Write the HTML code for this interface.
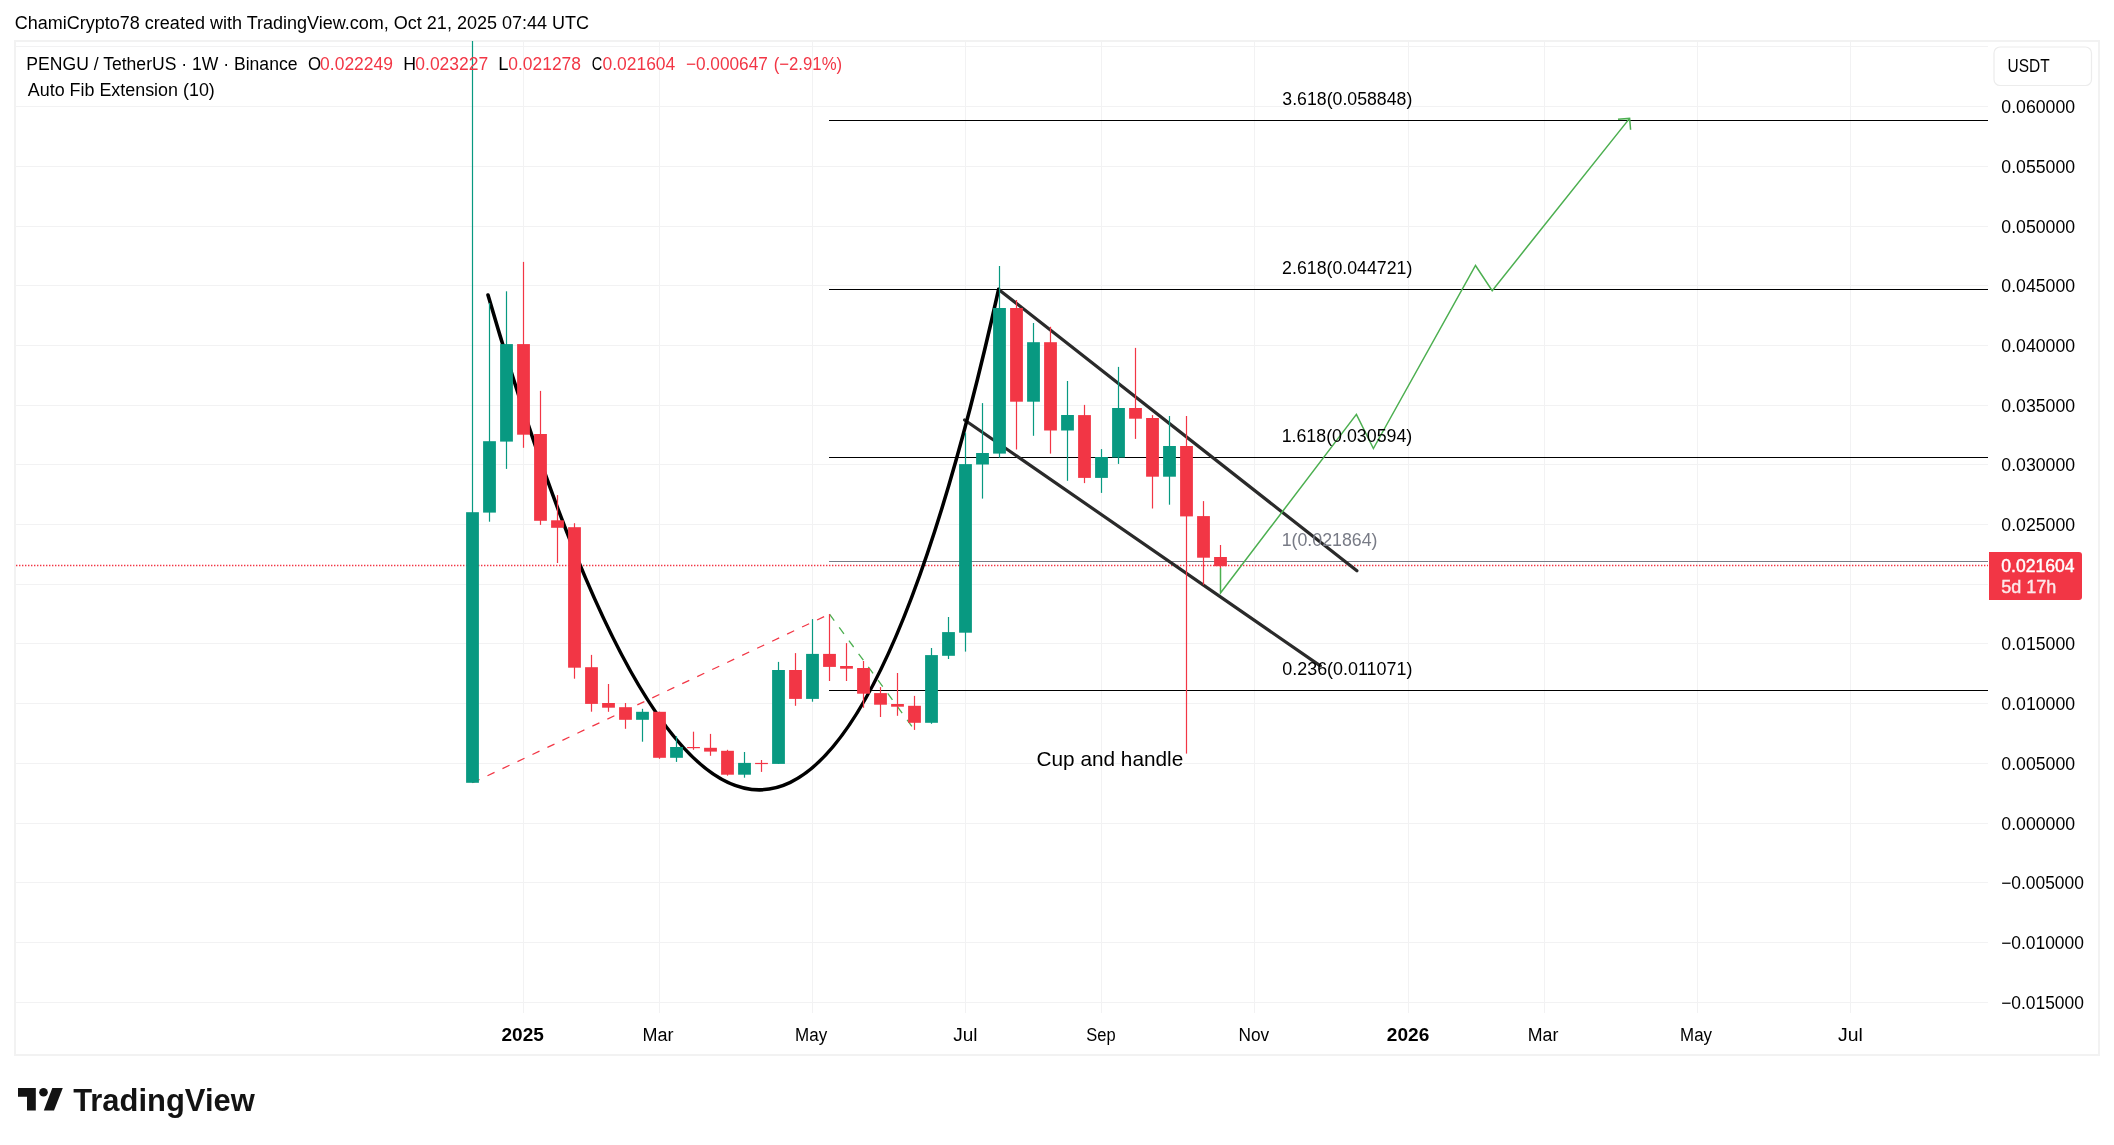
<!DOCTYPE html><html><head><meta charset="utf-8"><style>html,body{margin:0;padding:0;background:#fff;width:2114px;height:1145px;overflow:hidden}svg{display:block;will-change:transform}text{font-family:"Liberation Sans",sans-serif}</style></head><body>
<svg width="2114" height="1145" viewBox="0 0 2114 1145">
<rect x="0" y="0" width="2114" height="1145" fill="#ffffff"/>
<text x="14.69" y="28.8" font-size="18" fill="#000000" textLength="574.39" lengthAdjust="spacingAndGlyphs">ChamiCrypto78 created with TradingView.com, Oct 21, 2025 07:44 UTC</text>
<rect x="15" y="41" width="2084" height="1014" fill="none" stroke="#f2f2f2" stroke-width="2"/>
<line x1="16" y1="46.5" x2="1988" y2="46.5" stroke="#f2f2f3" stroke-width="1"/>
<line x1="16" y1="106.5" x2="1988" y2="106.5" stroke="#f2f2f3" stroke-width="1"/>
<line x1="16" y1="166.5" x2="1988" y2="166.5" stroke="#f2f2f3" stroke-width="1"/>
<line x1="16" y1="226.5" x2="1988" y2="226.5" stroke="#f2f2f3" stroke-width="1"/>
<line x1="16" y1="285.5" x2="1988" y2="285.5" stroke="#f2f2f3" stroke-width="1"/>
<line x1="16" y1="345.5" x2="1988" y2="345.5" stroke="#f2f2f3" stroke-width="1"/>
<line x1="16" y1="405.5" x2="1988" y2="405.5" stroke="#f2f2f3" stroke-width="1"/>
<line x1="16" y1="464.5" x2="1988" y2="464.5" stroke="#f2f2f3" stroke-width="1"/>
<line x1="16" y1="524.5" x2="1988" y2="524.5" stroke="#f2f2f3" stroke-width="1"/>
<line x1="16" y1="584.5" x2="1988" y2="584.5" stroke="#f2f2f3" stroke-width="1"/>
<line x1="16" y1="643.5" x2="1988" y2="643.5" stroke="#f2f2f3" stroke-width="1"/>
<line x1="16" y1="703.5" x2="1988" y2="703.5" stroke="#f2f2f3" stroke-width="1"/>
<line x1="16" y1="763.5" x2="1988" y2="763.5" stroke="#f2f2f3" stroke-width="1"/>
<line x1="16" y1="823.5" x2="1988" y2="823.5" stroke="#f2f2f3" stroke-width="1"/>
<line x1="16" y1="882.5" x2="1988" y2="882.5" stroke="#f2f2f3" stroke-width="1"/>
<line x1="16" y1="942.5" x2="1988" y2="942.5" stroke="#f2f2f3" stroke-width="1"/>
<line x1="16" y1="1002.5" x2="1988" y2="1002.5" stroke="#f2f2f3" stroke-width="1"/>
<line x1="523.5" y1="42" x2="523.5" y2="1013" stroke="#f2f2f3" stroke-width="1"/>
<line x1="659.5" y1="42" x2="659.5" y2="1013" stroke="#f2f2f3" stroke-width="1"/>
<line x1="812.5" y1="42" x2="812.5" y2="1013" stroke="#f2f2f3" stroke-width="1"/>
<line x1="965.5" y1="42" x2="965.5" y2="1013" stroke="#f2f2f3" stroke-width="1"/>
<line x1="1101.5" y1="42" x2="1101.5" y2="1013" stroke="#f2f2f3" stroke-width="1"/>
<line x1="1254.5" y1="42" x2="1254.5" y2="1013" stroke="#f2f2f3" stroke-width="1"/>
<line x1="1408.5" y1="42" x2="1408.5" y2="1013" stroke="#f2f2f3" stroke-width="1"/>
<line x1="1544.5" y1="42" x2="1544.5" y2="1013" stroke="#f2f2f3" stroke-width="1"/>
<line x1="1697.5" y1="42" x2="1697.5" y2="1013" stroke="#f2f2f3" stroke-width="1"/>
<line x1="1850.5" y1="42" x2="1850.5" y2="1013" stroke="#f2f2f3" stroke-width="1"/>
<line x1="829" y1="120.5" x2="1988" y2="120.5" stroke="#000" stroke-width="1"/>
<line x1="829" y1="289.5" x2="1988" y2="289.5" stroke="#000" stroke-width="1"/>
<line x1="829" y1="457.5" x2="1988" y2="457.5" stroke="#000" stroke-width="1"/>
<line x1="829" y1="561.5" x2="1988" y2="561.5" stroke="#787B86" stroke-width="1"/>
<line x1="829" y1="690.5" x2="1988" y2="690.5" stroke="#000" stroke-width="1"/>
<line x1="472.5" y1="782.8" x2="829.5" y2="614.1" stroke="#F23645" stroke-width="1.25" stroke-dasharray="7.8 8.77"/>
<line x1="829.5" y1="614.1" x2="914.5" y2="729.9" stroke="#4CAF50" stroke-width="1.3" stroke-dasharray="8 8.4"/>
<line x1="16" y1="565.5" x2="1988" y2="565.5" stroke="#F23645" stroke-width="1.3" stroke-dasharray="1.4 1.6"/>
<line x1="998.6" y1="289.4" x2="1356.9" y2="570.8" stroke="#2a2a2a" stroke-width="3.2" stroke-linecap="round"/>
<line x1="964.6" y1="420" x2="1320.3" y2="665.9" stroke="#2a2a2a" stroke-width="3.2" stroke-linecap="round"/>
<path d="M488,295 Q776.7,1287.5 998.6,289.4" fill="none" stroke="#000" stroke-width="3.6" stroke-linecap="round"/>
<polyline points="1220.5,567.7 1220.5,593 1356.4,414.4 1373.4,448.5 1475.5,265.5 1492.2,290.7 1629.6,118.4" fill="none" stroke="#4CAF50" stroke-width="1.5" stroke-linejoin="miter"/>
<polyline points="1618,119.2 1629.6,118.4 1630.6,129.7" fill="none" stroke="#4CAF50" stroke-width="1.5"/>
<rect x="471.90" y="41" width="1.2" height="741.8" fill="#089981"/>
<rect x="466.10" y="512.2" width="12.8" height="270.6" fill="#089981"/>
<rect x="488.90" y="303" width="1.2" height="218.7" fill="#089981"/>
<rect x="483.10" y="441.2" width="12.8" height="71.4" fill="#089981"/>
<rect x="505.90" y="291.3" width="1.2" height="177.6" fill="#089981"/>
<rect x="500.10" y="344.1" width="12.8" height="97.5" fill="#089981"/>
<rect x="522.90" y="261.9" width="1.2" height="185.9" fill="#F23645"/>
<rect x="517.10" y="344.1" width="12.8" height="90.6" fill="#F23645"/>
<rect x="539.90" y="390.9" width="1.2" height="134.0" fill="#F23645"/>
<rect x="534.10" y="434" width="12.8" height="86.8" fill="#F23645"/>
<rect x="556.90" y="495.1" width="1.2" height="67.9" fill="#F23645"/>
<rect x="551.10" y="520.3" width="12.8" height="7.5" fill="#F23645"/>
<rect x="573.90" y="523.2" width="1.2" height="155.5" fill="#F23645"/>
<rect x="568.10" y="527.2" width="12.8" height="140.5" fill="#F23645"/>
<rect x="590.90" y="654.9" width="1.2" height="56.8" fill="#F23645"/>
<rect x="585.10" y="667.2" width="12.8" height="36.7" fill="#F23645"/>
<rect x="607.90" y="684" width="1.2" height="27.8" fill="#F23645"/>
<rect x="602.10" y="703" width="12.8" height="4.7" fill="#F23645"/>
<rect x="624.90" y="703" width="1.2" height="25.8" fill="#F23645"/>
<rect x="619.10" y="707.2" width="12.8" height="12.6" fill="#F23645"/>
<rect x="641.90" y="708.8" width="1.2" height="32.9" fill="#089981"/>
<rect x="636.10" y="711.8" width="12.8" height="8.0" fill="#089981"/>
<rect x="658.90" y="711.7" width="1.2" height="47.1" fill="#F23645"/>
<rect x="653.10" y="711.8" width="12.8" height="46.0" fill="#F23645"/>
<rect x="675.90" y="736.2" width="1.2" height="25.7" fill="#089981"/>
<rect x="670.10" y="747" width="12.8" height="10.8" fill="#089981"/>
<rect x="692.90" y="731.7" width="1.2" height="18.1" fill="#F23645"/>
<rect x="687.10" y="747" width="12.8" height="1.2" fill="#F23645"/>
<rect x="709.90" y="733.9" width="1.2" height="21.9" fill="#F23645"/>
<rect x="704.10" y="747.8" width="12.8" height="3.8" fill="#F23645"/>
<rect x="726.90" y="749.8" width="1.2" height="25.9" fill="#F23645"/>
<rect x="721.10" y="750.8" width="12.8" height="23.9" fill="#F23645"/>
<rect x="743.90" y="752" width="1.2" height="25.7" fill="#089981"/>
<rect x="738.10" y="762.9" width="12.8" height="11.8" fill="#089981"/>
<rect x="760.90" y="760" width="1.2" height="11.9" fill="#F23645"/>
<rect x="755.10" y="762.9" width="12.8" height="1.2" fill="#F23645"/>
<rect x="777.90" y="661.9" width="1.2" height="102.0" fill="#089981"/>
<rect x="772.10" y="670" width="12.8" height="93.9" fill="#089981"/>
<rect x="794.90" y="653.1" width="1.2" height="52.7" fill="#F23645"/>
<rect x="789.10" y="670" width="12.8" height="28.9" fill="#F23645"/>
<rect x="811.90" y="619.1" width="1.2" height="82.6" fill="#089981"/>
<rect x="806.10" y="653.9" width="12.8" height="45.0" fill="#089981"/>
<rect x="828.90" y="614.1" width="1.2" height="66.9" fill="#F23645"/>
<rect x="823.10" y="653.9" width="12.8" height="13.0" fill="#F23645"/>
<rect x="845.90" y="643.1" width="1.2" height="37.9" fill="#F23645"/>
<rect x="840.10" y="666" width="12.8" height="2.7" fill="#F23645"/>
<rect x="862.90" y="661" width="1.2" height="46.8" fill="#F23645"/>
<rect x="857.10" y="668" width="12.8" height="25.7" fill="#F23645"/>
<rect x="879.90" y="687.1" width="1.2" height="29.9" fill="#F23645"/>
<rect x="874.10" y="693.1" width="12.8" height="11.6" fill="#F23645"/>
<rect x="896.90" y="673" width="1.2" height="42.8" fill="#F23645"/>
<rect x="891.10" y="704" width="12.8" height="2.7" fill="#F23645"/>
<rect x="913.90" y="695.9" width="1.2" height="34.0" fill="#F23645"/>
<rect x="908.10" y="705.8" width="12.8" height="17.0" fill="#F23645"/>
<rect x="930.90" y="648" width="1.2" height="75.8" fill="#089981"/>
<rect x="925.10" y="655.1" width="12.8" height="67.7" fill="#089981"/>
<rect x="947.90" y="617" width="1.2" height="42.0" fill="#089981"/>
<rect x="942.10" y="632.1" width="12.8" height="23.7" fill="#089981"/>
<rect x="964.90" y="432.6" width="1.2" height="219.0" fill="#089981"/>
<rect x="959.10" y="464.1" width="12.8" height="168.6" fill="#089981"/>
<rect x="981.90" y="403.1" width="1.2" height="95.5" fill="#089981"/>
<rect x="976.10" y="453" width="12.8" height="11.5" fill="#089981"/>
<rect x="998.90" y="266" width="1.2" height="191.6" fill="#089981"/>
<rect x="993.10" y="308" width="12.8" height="145.6" fill="#089981"/>
<rect x="1015.90" y="300" width="1.2" height="149.5" fill="#F23645"/>
<rect x="1010.10" y="308" width="12.8" height="93.7" fill="#F23645"/>
<rect x="1032.90" y="323" width="1.2" height="112.8" fill="#089981"/>
<rect x="1027.10" y="342.2" width="12.8" height="59.5" fill="#089981"/>
<rect x="1049.90" y="326.8" width="1.2" height="126.8" fill="#F23645"/>
<rect x="1044.10" y="342.2" width="12.8" height="88.3" fill="#F23645"/>
<rect x="1066.90" y="381" width="1.2" height="99.8" fill="#089981"/>
<rect x="1061.10" y="415" width="12.8" height="15.5" fill="#089981"/>
<rect x="1083.90" y="404.9" width="1.2" height="78.2" fill="#F23645"/>
<rect x="1078.10" y="415.1" width="12.8" height="62.8" fill="#F23645"/>
<rect x="1100.90" y="449.1" width="1.2" height="43.8" fill="#089981"/>
<rect x="1095.10" y="457" width="12.8" height="20.9" fill="#089981"/>
<rect x="1117.90" y="366.9" width="1.2" height="97.0" fill="#089981"/>
<rect x="1112.10" y="408" width="12.8" height="49.5" fill="#089981"/>
<rect x="1134.90" y="347.9" width="1.2" height="91.0" fill="#F23645"/>
<rect x="1129.10" y="408" width="12.8" height="10.7" fill="#F23645"/>
<rect x="1151.90" y="415.1" width="1.2" height="93.4" fill="#F23645"/>
<rect x="1146.10" y="418" width="12.8" height="58.7" fill="#F23645"/>
<rect x="1168.90" y="416" width="1.2" height="88.7" fill="#089981"/>
<rect x="1163.10" y="446" width="12.8" height="30.7" fill="#089981"/>
<rect x="1185.90" y="416" width="1.2" height="337.6" fill="#F23645"/>
<rect x="1180.10" y="446" width="12.8" height="70.4" fill="#F23645"/>
<rect x="1202.90" y="501.1" width="1.2" height="83.7" fill="#F23645"/>
<rect x="1197.10" y="516.1" width="12.8" height="41.6" fill="#F23645"/>
<rect x="1219.90" y="545" width="1.2" height="23.0" fill="#F23645"/>
<rect x="1214.10" y="557" width="12.8" height="9.2" fill="#F23645"/>
<text x="1282.33" y="104.8" font-size="18" fill="#000" textLength="129.97" lengthAdjust="spacingAndGlyphs">3.618(0.058848)</text>
<text x="1282.11" y="273.8" font-size="18" fill="#000" textLength="130.19" lengthAdjust="spacingAndGlyphs">2.618(0.044721)</text>
<text x="1281.64" y="441.8" font-size="18" fill="#000" textLength="130.66" lengthAdjust="spacingAndGlyphs">1.618(0.030594)</text>
<text x="1281.65" y="545.8" font-size="18" fill="#787B86" textLength="95.86" lengthAdjust="spacingAndGlyphs">1(0.021864)</text>
<text x="1282.31" y="674.8" font-size="18" fill="#000" textLength="130.09" lengthAdjust="spacingAndGlyphs">0.236(0.011071)</text>
<text x="1036.55" y="766.1" font-size="21" fill="#000000" textLength="146.68" lengthAdjust="spacingAndGlyphs">Cup and handle</text>
<text x="26.37" y="69.8" font-size="18" fill="#000000" textLength="271.10" lengthAdjust="spacingAndGlyphs">PENGU / TetherUS · 1W · Binance</text>
<text x="308.00" y="69.8" font-size="18" fill="#000000" textLength="13.10" lengthAdjust="spacingAndGlyphs">O</text>
<text x="320.12" y="69.8" font-size="18" fill="#F23645" textLength="72.81" lengthAdjust="spacingAndGlyphs">0.022249</text>
<text x="403.15" y="69.8" font-size="18" fill="#000000" textLength="12.80" lengthAdjust="spacingAndGlyphs">H</text>
<text x="415.32" y="69.8" font-size="18" fill="#F23645" textLength="72.86" lengthAdjust="spacingAndGlyphs">0.023227</text>
<text x="498.29" y="69.8" font-size="18" fill="#000000" textLength="10.22" lengthAdjust="spacingAndGlyphs">L</text>
<text x="508.32" y="69.8" font-size="18" fill="#F23645" textLength="72.64" lengthAdjust="spacingAndGlyphs">0.021278</text>
<text x="591.76" y="69.8" font-size="18" fill="#000000" textLength="10.49" lengthAdjust="spacingAndGlyphs">C</text>
<text x="602.42" y="69.8" font-size="18" fill="#F23645" textLength="72.89" lengthAdjust="spacingAndGlyphs">0.021604</text>
<text x="685.95" y="69.8" font-size="18" fill="#F23645" textLength="81.92" lengthAdjust="spacingAndGlyphs">−0.000647</text>
<text x="773.66" y="69.8" font-size="18" fill="#F23645" textLength="68.48" lengthAdjust="spacingAndGlyphs">(−2.91%)</text>
<text x="27.77" y="95.7" font-size="18" fill="#000000" textLength="187.04" lengthAdjust="spacingAndGlyphs">Auto Fib Extension (10)</text>
<rect x="1994" y="47" width="97.5" height="38.5" rx="6" fill="#fff" stroke="#ececec" stroke-width="1.2"/>
<text x="2007.61" y="71.7" font-size="18" fill="#000000" textLength="42.05" lengthAdjust="spacingAndGlyphs">USDT</text>
<text x="2001.31" y="112.5" font-size="18" fill="#000000" textLength="73.78" lengthAdjust="spacingAndGlyphs">0.060000</text>
<text x="2001.31" y="172.5" font-size="18" fill="#000000" textLength="73.78" lengthAdjust="spacingAndGlyphs">0.055000</text>
<text x="2001.31" y="232.5" font-size="18" fill="#000000" textLength="73.78" lengthAdjust="spacingAndGlyphs">0.050000</text>
<text x="2001.31" y="291.5" font-size="18" fill="#000000" textLength="73.78" lengthAdjust="spacingAndGlyphs">0.045000</text>
<text x="2001.31" y="351.5" font-size="18" fill="#000000" textLength="73.78" lengthAdjust="spacingAndGlyphs">0.040000</text>
<text x="2001.31" y="411.5" font-size="18" fill="#000000" textLength="73.78" lengthAdjust="spacingAndGlyphs">0.035000</text>
<text x="2001.31" y="470.5" font-size="18" fill="#000000" textLength="73.78" lengthAdjust="spacingAndGlyphs">0.030000</text>
<text x="2001.31" y="530.5" font-size="18" fill="#000000" textLength="73.78" lengthAdjust="spacingAndGlyphs">0.025000</text>
<text x="2001.31" y="649.5" font-size="18" fill="#000000" textLength="73.78" lengthAdjust="spacingAndGlyphs">0.015000</text>
<text x="2001.31" y="709.5" font-size="18" fill="#000000" textLength="73.78" lengthAdjust="spacingAndGlyphs">0.010000</text>
<text x="2001.31" y="769.5" font-size="18" fill="#000000" textLength="73.78" lengthAdjust="spacingAndGlyphs">0.005000</text>
<text x="2001.31" y="829.5" font-size="18" fill="#000000" textLength="73.78" lengthAdjust="spacingAndGlyphs">0.000000</text>
<text x="2001.14" y="888.5" font-size="18" fill="#000000" textLength="82.74" lengthAdjust="spacingAndGlyphs">−0.005000</text>
<text x="2001.14" y="948.5" font-size="18" fill="#000000" textLength="82.74" lengthAdjust="spacingAndGlyphs">−0.010000</text>
<text x="2001.14" y="1008.5" font-size="18" fill="#000000" textLength="82.74" lengthAdjust="spacingAndGlyphs">−0.015000</text>
<path d="M1989,552 H2079 Q2082,552 2082,555 V597 Q2082,600 2079,600 H1989 Z" fill="#F23645"/>
<text x="2001.31" y="571.6" font-size="18" fill="#fff" textLength="73.20" lengthAdjust="spacingAndGlyphs" stroke="#fff" stroke-width="0.45">0.021604</text>
<text x="2001.28" y="592.5" font-size="18" fill="#fde8ea" textLength="55.09" lengthAdjust="spacingAndGlyphs" stroke="#fde8ea" stroke-width="0.4">5d 17h</text>
<text x="501.54" y="1040.9" font-size="18" fill="#000000" font-weight="bold" textLength="42.29" lengthAdjust="spacingAndGlyphs">2025</text>
<text x="642.62" y="1040.9" font-size="18" fill="#000000" textLength="30.97" lengthAdjust="spacingAndGlyphs">Mar</text>
<text x="795.10" y="1040.9" font-size="18" fill="#000000" textLength="32.13" lengthAdjust="spacingAndGlyphs">May</text>
<text x="953.20" y="1040.9" font-size="18" fill="#000000" textLength="24.27" lengthAdjust="spacingAndGlyphs">Jul</text>
<text x="1086.35" y="1040.9" font-size="18" fill="#000000" textLength="29.34" lengthAdjust="spacingAndGlyphs">Sep</text>
<text x="1238.49" y="1040.9" font-size="18" fill="#000000" textLength="30.67" lengthAdjust="spacingAndGlyphs">Nov</text>
<text x="1386.84" y="1040.9" font-size="18" fill="#000000" font-weight="bold" textLength="42.45" lengthAdjust="spacingAndGlyphs">2026</text>
<text x="1527.74" y="1040.9" font-size="18" fill="#000000" textLength="30.55" lengthAdjust="spacingAndGlyphs">Mar</text>
<text x="1680.11" y="1040.9" font-size="18" fill="#000000" textLength="31.92" lengthAdjust="spacingAndGlyphs">May</text>
<text x="1838.10" y="1040.9" font-size="18" fill="#000000" textLength="24.80" lengthAdjust="spacingAndGlyphs">Jul</text>
<g fill="#131313"><path d="M18,1088 H35.8 V1110.5 H27 V1096.7 H18 Z"/><circle cx="43.5" cy="1092.3" r="4.3"/><path d="M52.3,1088 H62.8 L54,1110.5 H43.8 Z"/></g>
<text x="73.16" y="1110.5" font-size="32" fill="#131313" font-weight="bold" textLength="181.58" lengthAdjust="spacingAndGlyphs">TradingView</text>
</svg></body></html>
